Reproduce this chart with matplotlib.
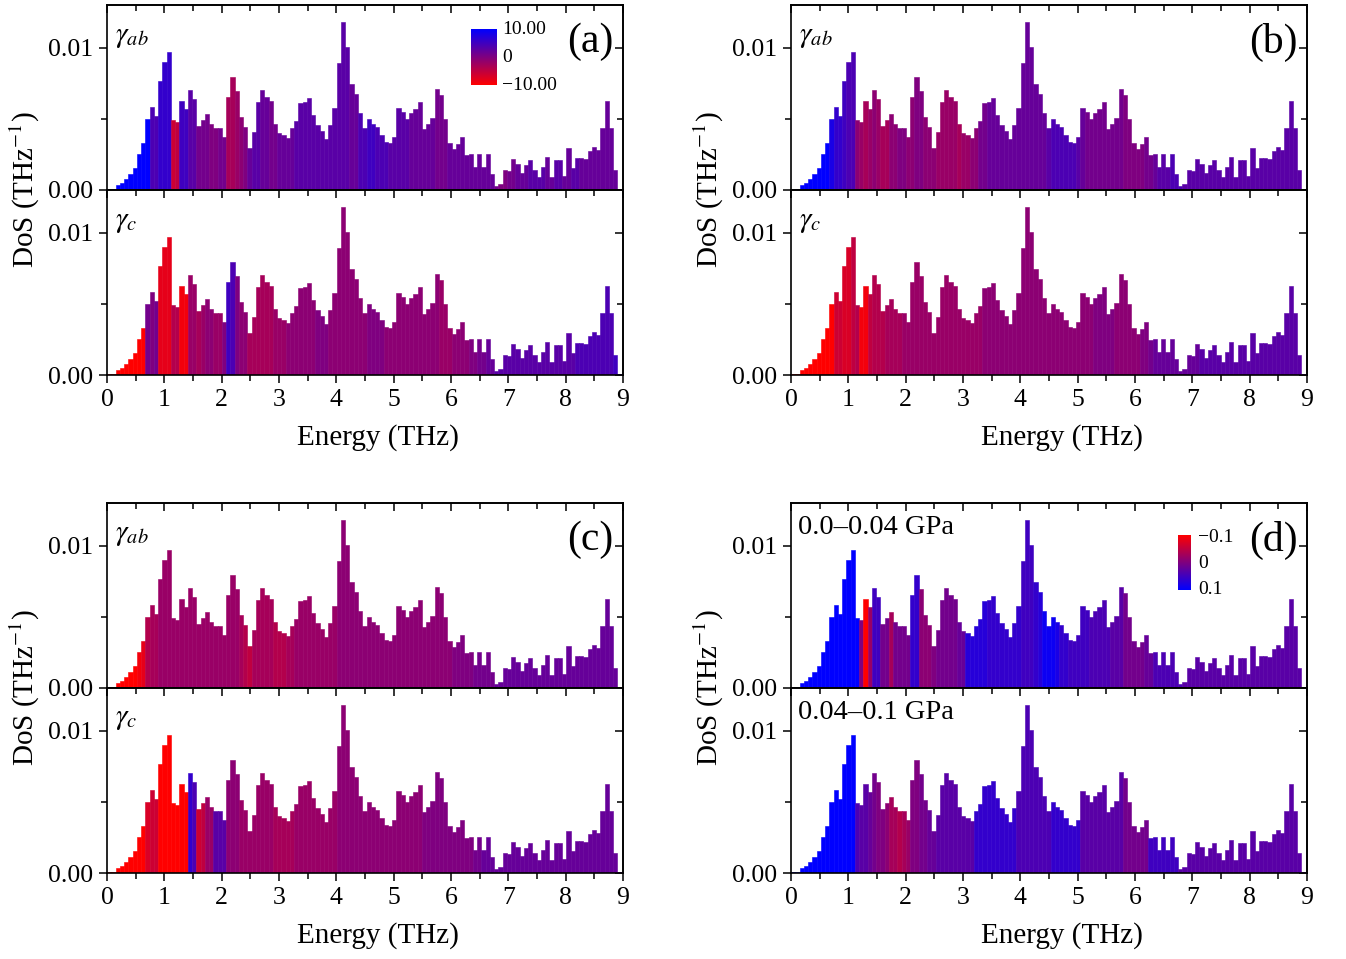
import numpy as np
import matplotlib
matplotlib.use('Agg')
import matplotlib.pyplot as plt
from matplotlib.colors import LinearSegmentedColormap, Normalize
from matplotlib.ticker import MultipleLocator, FixedLocator, FormatStrFormatter

plt.rcParams['font.family'] = ['Liberation Serif', 'DejaVu Serif']
plt.rcParams['mathtext.fontset'] = 'stix'

# ---------------- data ----------------
bin_width = 0.0742  # THz
# phonon DoS per bin, units of 1e-4 THz^-1
dos_1e4 = [0.5, 0.5, 3.5, 5.2, 7.5, 11.0, 15.7, 25.6, 33.1, 49.8,
           58.5, 51.9, 76.8, 90.1, 96.7, 49.3, 48.1, 62.2, 56.6, 70.4,
           63.6, 45.3, 49.5, 53.1, 46.2, 43.7, 43.7, 37.3, 65.7, 79.6,
           69.7, 51.4, 44.6, 29.8, 41.1, 61.7, 70.4, 65.7, 62.2, 46.2,
           40.4, 38.7, 36.2, 43.7, 48.6, 61.3, 61.5, 64.3, 52.6, 45.5,
           41.5, 35.7, 46.0, 57.5, 89.2, 118.3, 100.2, 74.4, 67.4, 54.0,
           43.7, 50.2, 46.2, 44.4, 38.5, 33.8, 33.3, 37.3, 57.3, 54.9,
           50.2, 54.2, 56.6, 62.0, 42.7, 46.7, 50.9, 70.7, 66.7, 49.8,
           33.3, 28.6, 32.2, 36.9, 24.6, 25.6, 16.2, 25.1, 16.2, 25.1,
           11.5, 2.6, 4.5, 13.8, 13.4, 21.6, 18.5, 12.2, 17.4, 20.9,
           13.8, 9.2, 16.2, 23.2, 9.2, 20.9, 21.1, 9.9, 29.3, 15.3,
           22.3, 22.8, 21.6, 27.5, 30.3, 28.2, 43.9, 62.7, 43.9, 13.8,
           0.5]

# Grueneisen parameters per bin (panels a-c, range -10..10)
a_ab = [10, 10, 10, 10, 10, 10, 10, 10, 10, 10,
        4, 4, 6, 6, 6, -6, -5, 5, 5, 3,
        3, 1, 1, 1, 0, 0, 1, 1, -3, -3,
        -2, -1, 0, 2, 3, 3, 2, 2, 1, 1,
        2, 2, 2, 2, 3, 3, 3, 3, 3, 3,
        3, 3, 3, 3, 3, 3, 3, 2, 2, 4,
        4, 5, 5, 4, 4, 4, 3, 3, 3, 3,
        3, 2, 2, 2, 2, 2, 2, 1, 1, 1,
        2, 2, 2, 2, 2, 2, 2, 2, 2, 2,
        2, 1, 0, 0, 1, 1, 2, 2, 2, 3,
        3, 3, 3, 2, 2, 3, 3, 2, 2, 3,
        3, 2, 2, 2, 2, 2, 2, 2, 2, 2,
        3]
a_c = [-10, -10, -10, -10, -10, -10, -10, -10, -10, 1,
       0, 1, -8, -8, -8, -4, -4, -9, -9, -2,
       -2, -3, -2, -1, -1, -2, -2, 0, 5, 4,
       0, -1, -1, -3, -3, -3, -3, -3, -3, -2,
       -2, -2, -1, -1, -1, -1, -1, -1, -1, 0,
       0, 0, -1, -1, -1, -1, -1, -1, -1, -1,
       -1, 0, 0, 0, 0, -1, -1, -1, -1, -1,
       -1, -1, -1, -1, -1, -1, -1, -1, -2, -2,
       -2, -1, -1, -1, -1, 0, 0, 1, 1, 2,
       2, 3, 3, 3, 3, 3, 3, 3, 3, 3,
       3, 3, 3, 3, 3, 3, 3, 3, 3, 3,
       4, 4, 4, 4, 4, 4, 4, 4, 4, 5,
       5]
b_ab = [10, 10, 10, 10, 10, 10, 10, 10, 10, 8,
        6, 6, 5, 4, 4, -1, -2, -3, -2, -1,
        -2, -3, -3, -1, -1, 0, 0, -1, -1, 0,
        0, -1, -1, -1, -2, -2, -2, -2, -2, -3,
        -2, -2, -1, -1, 1, 1, 2, 2, 2, 2,
        2, 2, 2, 2, 2, 2, 2, 2, 2, 2,
        3, 4, 4, 4, 4, 4, 4, 3, 2, 1,
        1, 1, 1, 1, 1, 1, 1, 1, 0, 0,
        0, 0, 0, 1, 1, 2, 3, 3, 3, 4,
        4, 4, 3, 3, 3, 3, 3, 3, 3, 3,
        3, 3, 3, 3, 3, 3, 3, 3, 3, 3,
        3, 3, 3, 3, 3, 3, 3, 3, 3, 3,
        3]
b_c = [-10, -10, -10, -10, -10, -10, -10, -10, -10, -10,
       -6, -6, -7, -7, -5, -4, -9, -9, -5, -4,
       -4, -4, -3, -3, -3, -3, -2, -2, -2, -2,
       -2, -2, -2, -2, -2, -2, -2, -2, -2, -2,
       -2, -2, -2, -2, -2, -1, -1, -1, -1, -1,
       -1, -1, -1, -1, -1, -1, -1, -1, -1, -1,
       -1, -1, -1, -1, -1, -1, -1, -1, -1, -1,
       -1, 0, 0, 0, 0, 0, -1, -1, -1, -1,
       -1, -1, 0, 0, 1, 2, 2, 2, 2, 2,
       2, 2, 2, 2, 2, 2, 3, 3, 3, 3,
       3, 3, 3, 3, 3, 3, 3, 3, 3, 3,
       3, 3, 3, 3, 3, 3, 3, 3, 3, 3,
       3]
c_ab = [-10, -10, -10, -10, -10, -10, -10, -9, -8, -4,
        -3, -3, -2, -2, -2, -2, -2, -2, -2, -2,
        -2, -2, -2, -2, -2, -2, -2, -2, -2, -2,
        -2, -3, -4, -5, -3, -3, -3, -3, -3, -4,
        -4, -4, -3, -3, -2, -2, -2, -2, -2, -2,
        -2, -2, -2, -2, -1, -1, -1, -1, -1, -1,
        -1, -1, -1, -1, -1, -1, -1, -1, -1, -1,
        -1, -1, -1, -1, -1, -1, -1, -1, -1, -1,
        -1, 0, 0, 0, 0, 0, 1, 1, 1, 1,
        1, 2, 2, 2, 2, 2, 2, 2, 2, 2,
        2, 2, 2, 2, 2, 2, 2, 2, 2, 2,
        2, 2, 2, 2, 2, 2, 2, 2, 2, 2,
        2]
c_c = [-10, -10, -10, -10, -10, -10, -10, -10, -10, -7,
       -6, -6, -10, -10, -10, -10, -10, -10, -10, 6,
       4, -6, -5, -2, -2, 3, 3, 3, -1, -1,
       -1, -2, -2, -2, -2, -2, -2, -2, -2, -3,
       -3, -3, -3, -3, -2, -2, -2, -2, -2, -2,
       -2, -2, -2, -2, -1, -1, -1, -1, -1, -1,
       -1, -1, -1, -1, -1, -1, -1, -1, -1, -1,
       -1, -1, -1, -1, 0, 0, 0, 0, 0, 0,
       0, 0, 0, 0, 0, 0, 1, 1, 2, 2,
       2, 2, 2, 2, 2, 2, 2, 2, 2, 2,
       2, 2, 2, 2, 2, 2, 2, 2, 2, 2,
       2, 2, 2, 2, 2, 2, 2, 2, 2, 2,
       2]
# panel d, units of 0.01 (range -0.1..0.1)
d_low = [10, 10, 10, 10, 10, 10, 10, 10, 10, 10,
         10, 10, 10, 10, 10, 10, 0, -10, -2, 5,
         5, 1, 1, -3, 1, 1, 1, 1, 6, 6,
         -1, -1, -1, 0, 1, 1, 1, 1, 1, 2,
         2, 7, 7, 7, 7, 7, 6, 6, 6, 6,
         6, 6, 6, 6, 5, 5, 5, 6, 7, 9,
         9, 9, 8, 6, 6, 5, 5, 5, 5, 5,
         4, 4, 4, 4, 4, 3, 3, 3, 1, 1,
         1, 1, 1, 2, 2, 4, 4, 4, 4, 4,
         4, 4, 3, 3, 3, 3, 3, 3, 3, 3,
         3, 3, 3, 3, 3, 3, 3, 3, 3, 3,
         3, 3, 3, 3, 3, 3, 3, 3, 3, 3,
         3]
d_high = [10, 10, 10, 10, 10, 10, 10, 10, 10, 10,
          10, 10, 10, 10, 10, 4, 3, 3, 2, 1,
          0, 0, -1, -3, -3, -4, -3, -2, 0, 0,
          1, 1, 2, 2, 3, 3, 3, 3, 3, 3,
          3, 3, 3, 6, 6, 6, 6, 6, 6, 6,
          6, 6, 6, 4, 4, 4, 4, 4, 4, 4,
          4, 6, 6, 6, 6, 6, 6, 6, 3, 3,
          3, 3, 3, 3, 3, 3, 3, 3, 1, 1,
          1, 1, 1, 1, 5, 5, 5, 5, 5, 5,
          5, 3, 3, 3, 3, 3, 3, 3, 3, 3,
          3, 3, 3, 3, 3, 3, 3, 3, 3, 3,
          3, 3, 3, 3, 3, 3, 3, 3, 3, 3,
          3]

x_ticks = [0, 1, 2, 3, 4, 5, 6, 7, 8, 9]
y_ticks = [0.0, 0.01]

# ---------------- figure ----------------
W, H = 1346, 959
fig = plt.figure(figsize=(W / 100, H / 100), dpi=100)
cmap = LinearSegmentedColormap.from_list('rb', ['#ff0000', '#0000ff'])

dos = np.array(dos_1e4) * 1e-4
left_edges = np.arange(len(dos)) * bin_width

TICK_FS = 18.5
LABEL_FS = 21


def style(ax, bottom_labels):
    ax.set_xlim(0, 9)
    ax.set_ylim(0, 0.013)
    ax.xaxis.set_major_locator(FixedLocator(x_ticks))
    ax.xaxis.set_minor_locator(MultipleLocator(0.5))
    ax.yaxis.set_major_locator(FixedLocator(y_ticks))
    ax.yaxis.set_minor_locator(FixedLocator([0.005]))
    ax.yaxis.set_major_formatter(FormatStrFormatter('%.2f'))
    ax.tick_params(which='both', direction='out', top=False, right=False,
                   labelsize=TICK_FS, width=1.1, pad=4)
    ax.tick_params(which='major', length=6)
    ax.tick_params(which='minor', length=4)
    if not bottom_labels:
        ax.tick_params(axis='x', labelbottom=False)
    for s in ax.spines.values():
        s.set_linewidth(1.2)
    sx = ax.secondary_xaxis('top')
    sx.xaxis.set_major_locator(FixedLocator(x_ticks))
    sx.xaxis.set_minor_locator(MultipleLocator(0.5))
    sx.tick_params(which='both', direction='in', labeltop=False, width=1.1)
    sx.tick_params(which='major', length=6)
    sx.tick_params(which='minor', length=4)
    sx.spines['top'].set_linewidth(1.2)
    sy = ax.secondary_yaxis('right')
    sy.yaxis.set_major_locator(FixedLocator(y_ticks))
    sy.yaxis.set_minor_locator(FixedLocator([0.005]))
    sy.tick_params(which='both', direction='in', labelright=False, width=1.1)
    sy.tick_params(which='major', length=6)
    sy.tick_params(which='minor', length=4)
    sy.spines['right'].set_linewidth(1.2)


def draw(ax, vals, norm):
    cols = cmap(norm(np.array(vals, dtype=float)))
    ax.bar(left_edges, dos, width=bin_width, align='edge', color=cols,
           edgecolor=cols, linewidth=0.4)


norm_g = Normalize(-10, 10)
norm_p = Normalize(-0.1, 0.1)

lefts = {'L': 107 / W, 'R': 791 / W}
aw = 516 / W
ah = 185 / H
rows = {0: (1 - 190 / H, 1 - 375 / H), 1: (1 - 688 / H, 1 - 873 / H)}

panels = [
    ('(a)', 'L', 0, a_ab, a_c, norm_g, 1.0, (r'$\gamma_{ab}$', r'$\gamma_{c}$')),
    ('(b)', 'R', 0, b_ab, b_c, norm_g, 1.0, (r'$\gamma_{ab}$', r'$\gamma_{c}$')),
    ('(c)', 'L', 1, c_ab, c_c, norm_g, 1.0, (r'$\gamma_{ab}$', r'$\gamma_{c}$')),
    ('(d)', 'R', 1, d_low, d_high, norm_p, 0.01, ('0.0\u20130.04 GPa', '0.04\u20130.1 GPa')),
]

for tag, side, row, v_top, v_bot, norm, scale, labels in panels:
    x0 = lefts[side]
    yb_top, yb_bot = rows[row]
    ax1 = fig.add_axes([x0, yb_top, aw, ah])
    ax2 = fig.add_axes([x0, yb_bot, aw, ah])
    draw(ax1, np.array(v_top) * scale, norm)
    draw(ax2, np.array(v_bot) * scale, norm)
    style(ax1, False)
    style(ax2, True)
    if tag == '(d)':
        ax1.text(0.014, 0.87, labels[0], transform=ax1.transAxes, ha='left',
                 va='center', fontsize=20.5)
        ax2.text(0.014, 0.87, labels[1], transform=ax2.transAxes, ha='left',
                 va='center', fontsize=20.5)
    else:
        ax1.text(0.015, 0.90, labels[0], transform=ax1.transAxes, ha='left',
                 va='top', fontsize=21)
        ax2.text(0.015, 0.90, labels[1], transform=ax2.transAxes, ha='left',
                 va='top', fontsize=21)
    ax1.text(0.982, 0.80, tag, transform=ax1.transAxes, ha='right',
             va='center', fontsize=30)
    # axis labels
    cx = x0 + aw / 2 + 13 / W
    fig.text(cx, yb_bot - 63 / H, 'Energy (THz)', ha='center', va='center',
             fontsize=LABEL_FS)
    lx = (25 if side == 'L' else 709) / W
    fig.text(lx, yb_top, r'DoS (THz$^{-1}$)', rotation=90, ha='center',
             va='center', fontsize=LABEL_FS)

# colour bar insets
grad = np.linspace(0, 1, 256).reshape(-1, 1)
cax_a = fig.add_axes([471 / W, 1 - 85 / H, 26 / W, 56 / H])
cax_a.imshow(grad, aspect='auto', cmap=cmap, origin='lower')
cax_a.set_axis_off()
for txt, yp in [('10.00', 30), ('0', 57), ('\u221210.00', 85)]:
    fig.text(502 / W, 1 - yp / H, txt, ha='left', va='center', fontsize=14)

cax_d = fig.add_axes([1178 / W, 1 - 590 / H, 13 / W, 55 / H])
cax_d.imshow(grad, aspect='auto', cmap=cmap, origin='upper')
cax_d.set_axis_off()
for txt, yp in [('\u22120.1', 537), ('0', 563), ('0.1', 590)]:
    fig.text(1198 / W, 1 - yp / H, txt, ha='left', va='center', fontsize=14)

fig.savefig('out.png', dpi=100)
